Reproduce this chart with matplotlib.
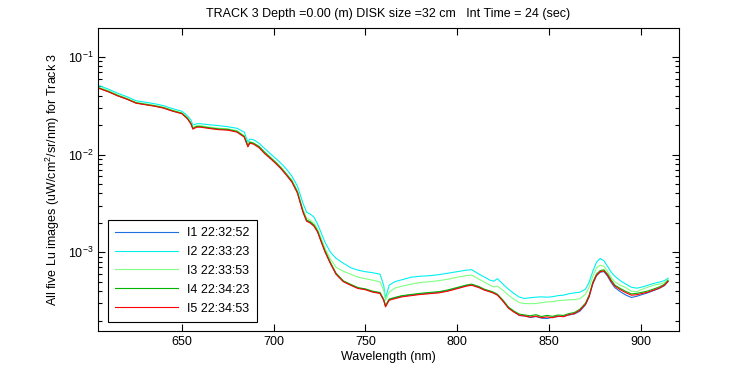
import numpy as np
import matplotlib
matplotlib.use("Agg")
import matplotlib.pyplot as plt
from matplotlib.ticker import LogLocator, FixedLocator, NullFormatter

plt.rcParams["font.family"] = ["Liberation Sans", "DejaVu Sans"]
plt.rcParams["mathtext.default"] = "regular"

# -- Spectra (uW/cm^2/sr/nm) --------------------------------------------------
wavelength = [605, 610, 615, 620, 625, 630, 635, 640, 645, 650,
              653, 655, 656, 658, 660, 665, 670, 675, 680, 684,
              686, 687, 689, 692, 695, 698, 701, 704, 707, 710,
              713, 716, 718, 720, 722, 724, 726, 728, 731, 734,
              738, 742, 746, 750, 754, 758, 760, 761, 763, 766,
              770, 775, 780, 785, 790, 795, 800, 805, 808, 812,
              815, 818, 820, 822, 825, 828, 831, 834, 837, 840,
              843, 846, 849, 852, 855, 858, 861, 864, 867, 870,
              872, 874, 876, 878, 880, 882, 884, 886, 889, 892,
              895, 898, 901, 904, 907, 910, 913, 915]

lu_i1 = [0.0477, 0.0441, 0.0401, 0.0371, 0.0338, 0.0326, 0.0315, 0.0301, 0.0280, 0.0264,
         0.0235, 0.0207, 0.0185, 0.0193, 0.0193, 0.0187, 0.0182, 0.0180, 0.0172, 0.0153,
         0.0122, 0.0133, 0.0130, 0.0120, 0.0105, 0.00930, 0.00828, 0.00727, 0.00624, 0.00530,
         0.00410, 0.00262, 0.00211, 0.00202, 0.00188, 0.00163, 0.00129, 0.00103, 7.75e-4, 6.05e-4,
         5.05e-4, 4.64e-4, 4.30e-4, 4.18e-4, 3.95e-4, 3.83e-4, 3.27e-4, 2.82e-4, 3.28e-4, 3.40e-4,
         3.55e-4, 3.66e-4, 3.75e-4, 3.82e-4, 3.90e-4, 4.05e-4, 4.30e-4, 4.55e-4, 4.65e-4, 4.40e-4,
         4.13e-4, 3.97e-4, 3.85e-4, 3.68e-4, 3.20e-4, 2.72e-4, 2.47e-4, 2.25e-4, 2.24e-4, 2.15e-4,
         2.20e-4, 2.12e-4, 2.10e-4, 2.16e-4, 2.20e-4, 2.22e-4, 2.28e-4, 2.34e-4, 2.50e-4, 2.90e-4,
         3.50e-4, 4.75e-4, 5.75e-4, 6.25e-4, 6.35e-4, 5.70e-4, 4.90e-4, 4.35e-4, 3.95e-4, 3.65e-4,
         3.45e-4, 3.55e-4, 3.70e-4, 3.85e-4, 4.05e-4, 4.25e-4, 4.55e-4, 5.02e-4]

lu_i2 = [0.0507, 0.0467, 0.0425, 0.0392, 0.0356, 0.0344, 0.0332, 0.0317, 0.0295, 0.0278,
         0.0250, 0.0225, 0.0200, 0.0207, 0.0207, 0.0202, 0.0198, 0.0193, 0.0186, 0.0170,
         0.0134, 0.0144, 0.0142, 0.0131, 0.0116, 0.0103, 0.00919, 0.00817, 0.00709, 0.00601,
         0.00475, 0.00318, 0.00257, 0.00246, 0.00229, 0.00194, 0.00157, 0.00127, 1.00e-3, 8.70e-4,
         7.73e-4, 6.96e-4, 6.56e-4, 6.33e-4, 6.18e-4, 5.97e-4, 4.60e-4, 3.39e-4, 4.60e-4, 5.00e-4,
         5.24e-4, 5.56e-4, 5.69e-4, 5.76e-4, 5.90e-4, 6.11e-4, 6.33e-4, 6.56e-4, 6.64e-4, 5.97e-4,
         5.56e-4, 5.18e-4, 5.06e-4, 5.37e-4, 4.72e-4, 4.19e-4, 3.79e-4, 3.47e-4, 3.37e-4, 3.43e-4,
         3.47e-4, 3.50e-4, 3.47e-4, 3.51e-4, 3.60e-4, 3.64e-4, 3.77e-4, 3.84e-4, 3.91e-4, 4.19e-4,
         4.94e-4, 6.40e-4, 7.92e-4, 8.64e-4, 8.20e-4, 7.21e-4, 6.26e-4, 5.69e-4, 5.12e-4, 4.72e-4,
         4.39e-4, 4.29e-4, 4.42e-4, 4.60e-4, 4.79e-4, 4.94e-4, 5.12e-4, 5.43e-4]

lu_i3 = [0.0490, 0.0451, 0.0410, 0.0378, 0.0344, 0.0332, 0.0320, 0.0306, 0.0285, 0.0268,
         0.0241, 0.0212, 0.0189, 0.0198, 0.0198, 0.0191, 0.0186, 0.0184, 0.0176, 0.0156,
         0.0125, 0.0136, 0.0132, 0.0122, 0.0107, 0.00952, 0.00846, 0.00743, 0.00637, 0.00547,
         0.00427, 0.00276, 0.00223, 0.00213, 0.00199, 0.00172, 0.00138, 0.00110, 8.50e-4, 7.04e-4,
         6.40e-4, 5.97e-4, 5.56e-4, 5.37e-4, 5.18e-4, 4.98e-4, 4.09e-4, 3.23e-4, 3.91e-4, 4.29e-4,
         4.50e-4, 4.72e-4, 4.91e-4, 5.00e-4, 5.12e-4, 5.30e-4, 5.56e-4, 5.76e-4, 5.83e-4, 5.30e-4,
         4.94e-4, 4.60e-4, 4.42e-4, 4.50e-4, 4.09e-4, 3.64e-4, 3.31e-4, 3.05e-4, 2.99e-4, 2.98e-4,
         2.99e-4, 3.05e-4, 3.11e-4, 3.12e-4, 3.20e-4, 3.23e-4, 3.27e-4, 3.28e-4, 3.35e-4, 3.72e-4,
         4.39e-4, 5.69e-4, 6.88e-4, 7.38e-4, 7.21e-4, 6.40e-4, 5.50e-4, 4.98e-4, 4.60e-4, 4.34e-4,
         4.00e-4, 3.95e-4, 4.19e-4, 4.39e-4, 4.60e-4, 4.72e-4, 4.88e-4, 5.30e-4]

lu_i4 = [0.0478, 0.0443, 0.0403, 0.0372, 0.0339, 0.0327, 0.0316, 0.0302, 0.0281, 0.0265,
         0.0236, 0.0208, 0.0186, 0.0194, 0.0194, 0.0188, 0.0183, 0.0181, 0.0173, 0.0154,
         0.0123, 0.0134, 0.0131, 0.0121, 0.0106, 0.00940, 0.00836, 0.00734, 0.00630, 0.00536,
         0.00415, 0.00265, 0.00214, 0.00205, 0.00190, 0.00165, 0.00130, 0.00104, 7.85e-4, 6.12e-4,
         5.10e-4, 4.70e-4, 4.35e-4, 4.22e-4, 4.00e-4, 3.88e-4, 3.30e-4, 2.85e-4, 3.32e-4, 3.45e-4,
         3.60e-4, 3.70e-4, 3.80e-4, 3.88e-4, 3.95e-4, 4.12e-4, 4.36e-4, 4.62e-4, 4.72e-4, 4.45e-4,
         4.18e-4, 4.02e-4, 3.90e-4, 3.72e-4, 3.24e-4, 2.75e-4, 2.50e-4, 2.33e-4, 2.28e-4, 2.24e-4,
         2.30e-4, 2.20e-4, 2.26e-4, 2.21e-4, 2.28e-4, 2.26e-4, 2.36e-4, 2.42e-4, 2.62e-4, 3.02e-4,
         3.65e-4, 4.95e-4, 5.98e-4, 6.50e-4, 6.62e-4, 6.00e-4, 5.20e-4, 4.62e-4, 4.26e-4, 3.98e-4,
         3.75e-4, 3.80e-4, 3.90e-4, 4.02e-4, 4.20e-4, 4.40e-4, 4.70e-4, 5.15e-4]

lu_i5 = [0.0475, 0.0439, 0.0399, 0.0369, 0.0336, 0.0324, 0.0313, 0.0299, 0.0278, 0.0262,
         0.0233, 0.0205, 0.0182, 0.0191, 0.0191, 0.0185, 0.0180, 0.0178, 0.0170, 0.0151,
         0.0120, 0.0131, 0.0128, 0.0118, 0.0103, 0.00919, 0.00817, 0.00717, 0.00615, 0.00522,
         0.00403, 0.00257, 0.00208, 0.00199, 0.00185, 0.00161, 0.00127, 0.00101, 7.64e-4, 5.97e-4,
         5.00e-4, 4.60e-4, 4.26e-4, 4.14e-4, 3.91e-4, 3.79e-4, 3.23e-4, 2.76e-4, 3.23e-4, 3.35e-4,
         3.50e-4, 3.60e-4, 3.70e-4, 3.77e-4, 3.84e-4, 4.00e-4, 4.24e-4, 4.50e-4, 4.60e-4, 4.34e-4,
         4.09e-4, 3.93e-4, 3.81e-4, 3.64e-4, 3.16e-4, 2.68e-4, 2.44e-4, 2.27e-4, 2.22e-4, 2.17e-4,
         2.22e-4, 2.14e-4, 2.18e-4, 2.14e-4, 2.22e-4, 2.19e-4, 2.30e-4, 2.36e-4, 2.56e-4, 2.94e-4,
         3.55e-4, 4.83e-4, 5.83e-4, 6.33e-4, 6.45e-4, 5.83e-4, 5.06e-4, 4.50e-4, 4.14e-4, 3.86e-4,
         3.64e-4, 3.68e-4, 3.79e-4, 3.91e-4, 4.09e-4, 4.29e-4, 4.60e-4, 5.06e-4]

series = [
    ("I1 22:32:52", lu_i1, "#1f6fe0"),
    ("I2 22:33:23", lu_i2, "#00f0f0"),
    ("I3 22:33:53", lu_i3, "#80ff80"),
    ("I4 22:34:23", lu_i4, "#00b400"),
    ("I5 22:34:53", lu_i5, "#ff0000"),
]

# -- Figure --------------------------------------------------------------------
fig = plt.figure(figsize=(7.5, 3.75), dpi=100)
ax = fig.add_axes([0.1307, 0.117, 0.7747, 0.808])

for label, values, colour in series:
    ax.plot(wavelength, values, color=colour, linewidth=0.8, label=label)

ax.set_yscale("log")
ax.set_xlim(604.3, 921)
ax.set_ylim(1.56e-4, 0.197)

ax.xaxis.set_major_locator(FixedLocator([650, 700, 750, 800, 850, 900]))
ax.yaxis.set_major_locator(LogLocator(base=10))
ax.yaxis.set_minor_locator(LogLocator(base=10, subs=np.arange(2, 10)))
ax.yaxis.set_minor_formatter(NullFormatter())

ax.tick_params(which="both", direction="in", top=True, right=True,
               labelsize=9, width=0.8)
ax.tick_params(which="major", length=5)
ax.tick_params(which="minor", length=3)
for side in ax.spines.values():
    side.set_linewidth(0.8)

ax.set_xlabel("Wavelength (nm)", fontsize=9, labelpad=2)
ax.set_ylabel("All five Lu images (uW/cm$^2$/sr/nm) for Track 3", fontsize=9)
ax.set_title("TRACK 3 Depth =0.00 (m) DISK size =32 cm   Int Time = 24 (sec)",
             fontsize=9, pad=8)

leg = ax.legend(loc="lower left", bbox_to_anchor=(0.017, 0.03), fontsize=9,
                fancybox=False, framealpha=1, edgecolor="black",
                borderaxespad=0, handlelength=5.0, handletextpad=0.7,
                labelspacing=0.55, borderpad=0.6)
leg.get_frame().set_linewidth(0.8)

fig.savefig("out.png", dpi=100)
plt.close(fig)
